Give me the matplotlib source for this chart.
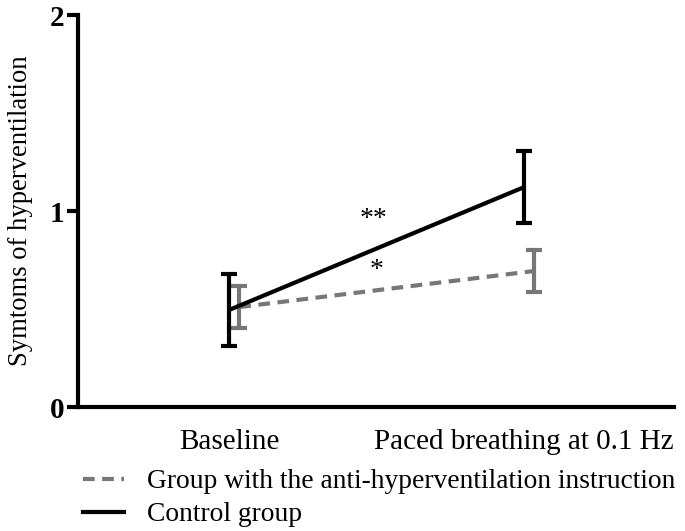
import matplotlib
matplotlib.use("Agg")
import matplotlib.pyplot as plt
from matplotlib.lines import Line2D

categories = ["Baseline", "Paced breathing at 0.1 Hz"]
control_mean = [0.495, 1.122]
control_err = [0.185, 0.184]
anti_mean = [0.51, 0.694]
anti_err = [0.105, 0.108]
y_ticks = [0, 1, 2]
sig_control = "**"
sig_anti = "*"

plt.rcParams['font.family'] = ['Liberation Serif', 'DejaVu Serif']

W, H = 685, 531
fig = plt.figure(figsize=(W / 100, H / 100), dpi=100)
ax = fig.add_axes([78 / W, 1 - 407 / H, (674 - 78) / W, (407 - 15) / H])

xs = list(range(len(categories)))
off = 0.035
gray = "#777777"
lw = 3.0
dash = (0, (2.8, 1.8))

ax.plot(xs, control_mean, color="black", lw=lw, solid_capstyle="butt", zorder=3)
ax.errorbar(xs, control_mean, yerr=control_err, fmt="none", ecolor="black",
            elinewidth=lw, capsize=6, capthick=lw, zorder=3)
xa = [x + off for x in xs]
ax.plot(xa, anti_mean, color=gray, lw=lw, ls=dash, zorder=2)
ax.errorbar(xa, anti_mean, yerr=anti_err, fmt="none", ecolor=gray,
            elinewidth=lw, capsize=6, capthick=lw, zorder=2)

ax.text(0.488, 0.959, sig_control, ha="center", va="center", fontsize=20)
ax.text(0.50, 0.694, sig_anti, ha="center", va="center", fontsize=20)

ax.set_xlim(-0.512, 1.508)
ax.set_ylim(0, 2)
ax.set_yticks(y_ticks)
ax.set_yticklabels([str(t) for t in y_ticks], fontweight="bold", fontsize=21)
ax.set_xticks(xs)
ax.set_xticklabels(categories, fontsize=21)
ax.tick_params(axis="x", length=0, pad=16)
ax.tick_params(axis="y", length=8, width=lw, pad=2)
for s in ["top", "right"]:
    ax.spines[s].set_visible(False)
for s in ["left", "bottom"]:
    ax.spines[s].set_linewidth(lw)
ax.spines["left"].set_bounds(0, 2)
ax.set_ylabel("Symtoms of hyperventilation", fontsize=19.2, labelpad=12)

handles = [Line2D([], [], color=gray, lw=lw, ls=dash),
           Line2D([], [], color="black", lw=lw)]
labels = ["Group with the anti-hyperventilation instruction", "Control group"]
fig.legend(handles, labels, loc="upper left", bbox_to_anchor=(83 / W, 1 - 469 / H),
           frameon=False, fontsize=19.8, handlelength=1.5, handletextpad=0.83,
           labelspacing=0.28, borderaxespad=0, borderpad=0)

fig.savefig("out.png", dpi=100)
